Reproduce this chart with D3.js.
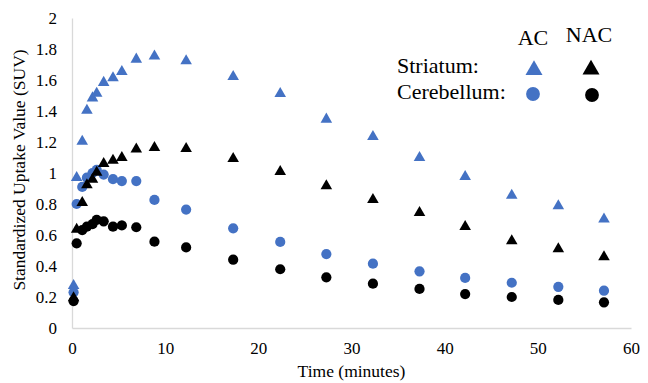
<!DOCTYPE html>
<html>
<head>
<meta charset="utf-8">
<script src="https://cdn.jsdelivr.net/npm/d3@7"></script>
<style>
  body { margin: 0; background: #fff; }
  text { font-family: "Liberation Serif", "Times New Roman", serif; fill: #000; }
</style>
</head>
<body>
<svg width="648" height="383"></svg>
<script>
// frame mid-times (minutes), shared by all four curves
const times = [0.17, 0.5, 1.1, 1.6, 2.2, 2.65, 3.4, 4.4, 5.35, 6.9, 8.85,
  12.25, 17.3, 22.35, 27.3, 32.3, 37.3, 42.2, 47.2, 52.2, 57.1];
const striatumAC = [0.28, 0.976, 1.21, 1.41, 1.49, 1.52, 1.59, 1.62, 1.66, 1.74, 1.76,
  1.729, 1.628, 1.518, 1.353, 1.241, 1.105, 0.983, 0.862, 0.794, 0.708];
const striatumNAC = [0.2, 0.643, 0.815, 0.93, 0.965, 1.01, 1.067, 1.088, 1.105, 1.16, 1.17,
  1.163, 1.099, 1.015, 0.923, 0.834, 0.75, 0.66, 0.568, 0.516, 0.465];
const cerebellumAC = [0.23, 0.80, 0.91, 0.97, 1.0, 1.02, 0.99, 0.96, 0.948, 0.948, 0.826,
  0.764, 0.643, 0.555, 0.477, 0.415, 0.366, 0.323, 0.292, 0.266, 0.241];
const cerebellumNAC = [0.174, 0.546, 0.632, 0.654, 0.67, 0.697, 0.688, 0.654, 0.662, 0.65, 0.557,
  0.52, 0.441, 0.379, 0.327, 0.286, 0.252, 0.219, 0.2, 0.181, 0.166];
const xTicks = [0, 10, 20, 30, 40, 50, 60];
const yTicks = [0, 0.2, 0.4, 0.6, 0.8, 1, 1.2, 1.4, 1.6, 1.8, 2];

const blue = '#4472c4';
const svg = d3.select('svg');
const margin = { left: 72, right: 17, top: 18, bottom: 55 };
const width = +svg.attr('width');
const height = +svg.attr('height');

const x = d3.scaleLinear().domain([0, 60]).range([margin.left, width - margin.right]);
const y = d3.scaleLinear().domain([0, 2]).range([height - margin.bottom, margin.top]);

// axes (light grey lines, no gridlines)
const xAxis = svg.append('g')
  .attr('transform', `translate(0,${y(0)})`)
  .call(d3.axisBottom(x).tickValues(xTicks).tickSize(0).tickPadding(14).tickFormat(d3.format('d')));
const yAxis = svg.append('g')
  .attr('transform', `translate(${x(0)},0)`)
  .call(d3.axisLeft(y).tickValues(yTicks).tickSize(0).tickPadding(15).tickFormat(d => d));
[xAxis, yAxis].forEach(a => {
  a.attr('font-family', null).attr('font-size', null);
  a.select('.domain').attr('stroke', '#d9d9d9').attr('stroke-width', 1.3);
  a.selectAll('text').style('font-family', '"Liberation Serif", serif').style('font-size', '17px').attr('fill', '#000');
});

svg.append('text')
  .attr('x', (x(0) + x(60)) / 2).attr('y', 377)
  .attr('text-anchor', 'middle').style('font-size', '17.5px')
  .text('Time (minutes)');
svg.append('text')
  .attr('transform', `translate(25,${(y(0) + y(2)) / 2 - 3}) rotate(-90)`)
  .attr('text-anchor', 'middle').style('font-size', '17.5px')
  .text('Standardized Uptake Value (SUV)');

const tri = d3.symbol().type(d3.symbolTriangle).size(58);
const dot = d3.symbol().type(d3.symbolCircle).size(82);

const series = [
  { vals: cerebellumNAC, sym: dot, color: '#000' },
  { vals: cerebellumAC, sym: dot, color: blue },
  { vals: striatumNAC, sym: tri, color: '#000' },
  { vals: striatumAC, sym: tri, color: blue }
];

series.forEach(s => {
  svg.append('g').selectAll('path')
    .data(times.map((t, i) => [t, s.vals[i]]))
    .join('path')
    .attr('d', s.sym())
    .attr('fill', s.color)
    .attr('transform', d => `translate(${x(d[0])},${y(d[1]) + (s.sym === tri ? 1 : 0)})`);
});

// legend
const lg = svg.append('g');
const bigTri = d3.symbol().type(d3.symbolTriangle).size(125);
const bigDot = d3.symbol().type(d3.symbolCircle).size(150);
lg.append('text').attr('x', 533).attr('y', 45).attr('text-anchor', 'middle').style('font-size', '22px').text('AC');
lg.append('text').attr('x', 589).attr('y', 42).attr('text-anchor', 'middle').style('font-size', '22px').text('NAC');
lg.append('text').attr('x', 397).attr('y', 73).style('font-size', '22px').text('Striatum:');
lg.append('text').attr('x', 397).attr('y', 99).style('font-size', '22px').text('Cerebellum:');
lg.append('path').attr('d', bigTri()).attr('fill', blue).attr('transform', 'translate(534,70)');
lg.append('path').attr('d', bigTri()).attr('fill', '#000').attr('transform', 'translate(591,69.5)');
lg.append('path').attr('d', bigDot()).attr('fill', blue).attr('transform', 'translate(533,94)');
lg.append('path').attr('d', bigDot()).attr('fill', '#000').attr('transform', 'translate(592,95)');
</script>
</body>
</html>
